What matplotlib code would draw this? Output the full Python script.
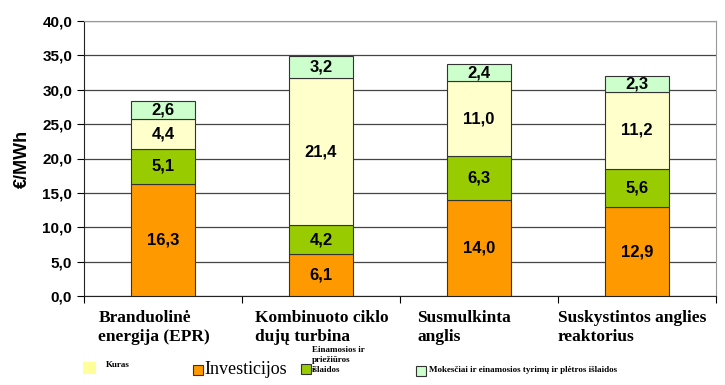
import numpy as np
import matplotlib
matplotlib.use("Agg")
import matplotlib.pyplot as plt
from matplotlib.patches import Rectangle
from matplotlib.ticker import FuncFormatter, MultipleLocator

categories = ["Branduolinė\nenergija (EPR)", "Kombinuoto ciklo\ndujų turbina",
              "Susmulkinta\nanglis", "Suskystintos anglies\nreaktorius"]
investicijos = [16.3, 6.1, 14.0, 12.9]
einamosios = [5.1, 4.2, 6.3, 5.6]
kuras = [4.4, 21.4, 11.0, 11.2]
mokesciai = [2.6, 3.2, 2.4, 2.3]
series = [investicijos, einamosios, kuras, mokesciai]
colors = ["#FF9900", "#99CC00", "#FFFFCC", "#CCFFCC"]

sans = "Liberation Sans"
serif = "Liberation Serif"

fig = plt.figure(figsize=(7.25, 3.85), dpi=100)
ax = fig.add_axes([84/725, 1-296/385, 632/725, 275/385])

x = np.arange(len(categories))
bottom = np.zeros(len(categories))
for vals, col in zip(series, colors):
    bars = ax.bar(x, vals, 0.4, bottom=bottom, color=col, edgecolor="#333333",
                  linewidth=0.8, zorder=3)
    for b, v in zip(bars, vals):
        ax.text(b.get_x() + b.get_width()/2, b.get_y() + v/2,
                f"{v:.1f}".replace(".", ","), ha="center", va="center",
                fontsize=12, fontweight="bold", family=sans, zorder=4)
    bottom += np.array(vals)

ax.set_xlim(-0.5, len(categories) - 0.5)
ax.set_ylim(0, 40)
ax.yaxis.set_major_locator(MultipleLocator(5))
ax.yaxis.set_major_formatter(FuncFormatter(lambda v, p: f"{v:.1f}".replace(".", ",")))
ax.grid(axis="y", color="#444444", linewidth=0.9, zorder=0)
for lbl in ax.get_yticklabels():
    lbl.set_fontweight("bold")
    lbl.set_family(sans)
    lbl.set_fontsize(11)
ax.tick_params(axis="y", length=5, width=0.8, direction="out")
ax.set_ylabel("€/MWh", fontsize=13, fontweight="bold", family=sans, labelpad=8)

ax.set_xticks(np.arange(len(categories) + 1) - 0.5)
ax.set_xticklabels([])
ax.tick_params(axis="x", length=5, width=0.8, direction="out")
ax.spines["top"].set_color("#999999")
ax.spines["right"].set_color("#999999")
ax.spines["left"].set_color("#222222")
ax.spines["bottom"].set_color("#222222")

offsets = [0.09, 0.08, 0.11, 0.0]
for i, (name, off) in enumerate(zip(categories, offsets)):
    ax.text(i - 0.5 + off, -0.05, name, transform=ax.get_xaxis_transform(),
            ha="left", va="top", fontsize=12.5, fontweight="bold", family=serif,
            linespacing=1.3)

# legend drawn by hand, Excel style
def patch(px, py, w, h, col, edge=True):
    fig.patches.append(Rectangle((px/725, 1-(py+h)/385), w/725, h/385,
                                 transform=fig.transFigure, facecolor=col,
                                 edgecolor="#333333" if edge else "none",
                                 linewidth=0.8))

patch(83, 362, 13, 12, "#FFFF99", edge=False)
fig.text(106/725, 1-365/385, "Kuras", fontsize=6.5, fontweight="bold",
         family=serif, va="center")
patch(193, 365, 10, 10, colors[0])
fig.text(204/725, 1-370/385, "Investicijos", fontsize=13, family=serif,
         va="center")
patch(301, 364, 10, 10, colors[1])
fig.text(312/725, 1-360/385, "Einamosios ir\npriežiūros\nišlaidos", fontsize=6.5,
         fontweight="bold", family=serif, va="center", linespacing=1.25)
patch(416, 366, 10, 10, colors[3])
fig.text(429/725, 1-370/385, "Mokesčiai ir einamosios tyrimų ir plėtros išlaidos",
         fontsize=6.5, fontweight="bold", family=serif, va="center")

fig.savefig("out.png", dpi=100)
